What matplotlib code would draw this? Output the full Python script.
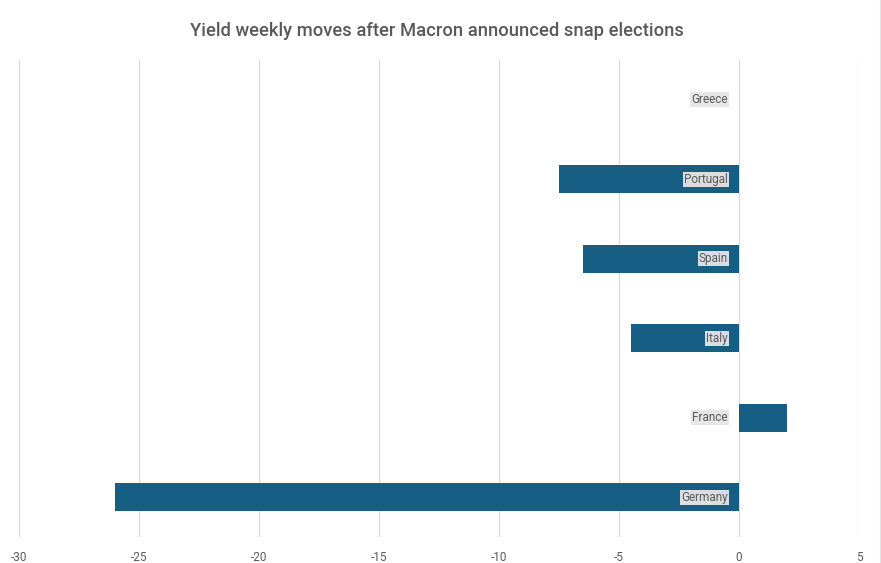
import matplotlib
matplotlib.use("Agg")
import matplotlib.pyplot as plt
from matplotlib.lines import Line2D

countries = ["Germany", "France", "Italy", "Spain", "Portugal", "Greece"]
weekly_moves = [-26.0, 2.0, -4.5, -6.5, -7.5, 0.0]
x_ticks = [-30, -25, -20, -15, -10, -5, 0, 5]

label_font = "Roboto"
text_color = "#595959"

W, H = 881, 563
fig = plt.figure(figsize=(W / 100, H / 100), dpi=100)
ax = fig.add_axes([19 / W, (H - 537) / H, (859 - 19) / W, (537 - 60) / H])

bar_color = "#165E83"
y = list(range(len(countries)))
ax.barh(y, weekly_moves, height=0.35, color=bar_color, zorder=3)

ax.set_xlim(-30, 5)
ax.set_ylim(-0.5, len(countries) - 0.5)
ax.set_xticks(x_ticks)
ax.set_xticklabels([str(t) for t in x_ticks], fontsize=8.5, color=text_color,
                   family=label_font)
ax.set_yticks([])
ax.tick_params(axis="x", length=0, pad=10)
ax.grid(axis="x", color="#d9d9d9", linewidth=0.9, zorder=0)
for s in ax.spines.values():
    s.set_visible(False)

# category names sit just left of the zero line
for yi, name in zip(y, countries):
    ax.annotate(name, xy=(0, yi), xytext=(-8, 0), textcoords="offset points",
                ha="right", va="center", fontsize=8.5, color=text_color,
                family=label_font, zorder=5,
                bbox=dict(boxstyle="square,pad=0.1", facecolor="#e6e6e6",
                          edgecolor="none", alpha=0.95))

fig.text(437 / W, 1 - 31 / H, "Yield weekly moves after Macron announced snap elections",
         ha="center", va="center", fontsize=13.2, color=text_color,
         family="Roboto", weight="medium")

# faint frame edge on the right
fig.add_artist(Line2D([879.5 / W, 879.5 / W], [0, 1], color="#e3e3e3",
                      linewidth=0.8, transform=fig.transFigure))

fig.savefig("out.png", dpi=100)
